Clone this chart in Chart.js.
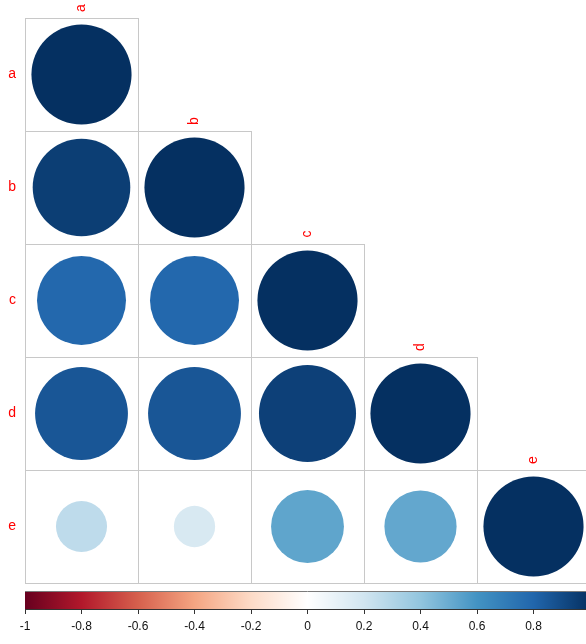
<!DOCTYPE html>
<html>
<head>
<meta charset="utf-8">
<script src="https://cdn.jsdelivr.net/npm/chart.js@4/dist/chart.umd.min.js"></script>
<style>
  html, body { margin: 0; padding: 0; background: #fff; overflow: hidden; }
  #wrap { width: 586px; height: 644px; overflow: hidden; position: relative; }
  .box { position: absolute; left: 0; width: 591px; }
</style>
</head>
<body>
<div id="wrap">
  <div class="box" style="top:0;height:584px"><canvas id="corr"></canvas></div>
  <div class="box" style="top:583px;height:61px"><canvas id="bar"></canvas></div>
</div>
<script>
// variables, lower triangle of the correlation matrix (row by row)
var vars = ['a', 'b', 'c', 'd', 'e'];
var rowA = [1];
var rowB = [0.95, 1];
var rowC = [0.79, 0.79, 1];
var rowD = [0.86, 0.86, 0.94, 1];
var rowE = [0.26, 0.17, 0.53, 0.52, 1];
var corrRows = [rowA, rowB, rowC, rowD, rowE];

// RdBu palette, -1 .. 1
var palette = ['#67001F', '#B2182B', '#D6604D', '#F4A582', '#FDDBC7', '#FFFFFF',
               '#D1E5F0', '#92C5DE', '#4393C3', '#2166AC', '#053061'];
var barTicks = [-1, -0.8, -0.6, -0.4, -0.2, 0, 0.2, 0.4, 0.6, 0.8];

Chart.defaults.font.family = "'Liberation Sans', Arial, sans-serif";
Chart.defaults.animation = false;

function hex2rgb(h) {
  return [parseInt(h.substr(1, 2), 16), parseInt(h.substr(3, 2), 16), parseInt(h.substr(5, 2), 16)];
}
function colorFor(v) {
  var t = (v + 1) / 2 * (palette.length - 1);
  var i = Math.min(Math.floor(t), palette.length - 2);
  var f = t - i;
  var a = hex2rgb(palette[i]), b = hex2rgb(palette[i + 1]);
  var c = a.map((x, k) => Math.round(x + (b[k] - x) * f));
  return 'rgb(' + c.join(',') + ')';
}

var points = [];
corrRows.forEach((row, i) => {
  row.forEach((v, j) => {
    points.push({ x: j + 1, y: i + 1, v: v });
  });
});

function cellSize(chart) {
  var xs = chart.scales.x;
  return Math.abs(xs.getPixelForValue(2) - xs.getPixelForValue(1));
}

var gridPlugin = {
  id: 'cells',
  beforeDatasetsDraw(chart) {
    var c = chart.ctx, xs = chart.scales.x, ys = chart.scales.y;
    c.save();
    c.strokeStyle = '#c8c8c8';
    c.lineWidth = 1;
    corrRows.forEach((row, i) => {
      row.forEach((v, j) => {
        var x0 = Math.round(xs.getPixelForValue(j + 0.5)) + 0.5;
        var x1 = Math.round(xs.getPixelForValue(j + 1.5)) + 0.5;
        var y0 = Math.round(ys.getPixelForValue(i + 0.5)) + 0.5;
        var y1 = Math.round(ys.getPixelForValue(i + 1.5)) + 0.5;
        c.strokeRect(x0, y0, x1 - x0, y1 - y0);
      });
    });
    c.restore();
  },
  afterDraw(chart) {
    // column labels, rotated, sitting above the diagonal
    var c = chart.ctx, xs = chart.scales.x, ys = chart.scales.y;
    c.save();
    c.fillStyle = '#ff0000';
    c.font = "14px 'Liberation Sans', Arial, sans-serif";
    c.textAlign = 'center';
    c.textBaseline = 'middle';
    vars.forEach((name, j) => {
      var px = xs.getPixelForValue(j + 1);
      var py = ys.getPixelForValue(j + 0.5) - 10;
      c.save();
      c.translate(px, py);
      c.rotate(-Math.PI / 2);
      c.fillText(name, 0, 0);
      c.restore();
    });
    c.restore();
  }
};

var chart = new Chart(document.getElementById('corr'), {
  type: 'scatter',
  data: {
    datasets: [{
      data: points,
      pointStyle: 'circle',
      borderWidth: 0,
      pointBorderWidth: 0,
      backgroundColor: ctx => colorFor(ctx.raw.v),
      pointBackgroundColor: ctx => colorFor(ctx.raw.v),
      pointRadius: ctx => Math.sqrt(Math.abs(ctx.raw.v)) * cellSize(ctx.chart) * 0.443,
      pointHoverRadius: ctx => Math.sqrt(Math.abs(ctx.raw.v)) * cellSize(ctx.chart) * 0.443
    }]
  },
  options: {
    responsive: true,
    maintainAspectRatio: false,
    layout: { padding: { top: 18, right: 1, bottom: 1, left: 0 } },
    plugins: { legend: { display: false }, tooltip: { enabled: false } },
    scales: {
      x: {
        type: 'linear', min: 0.5, max: 5.5, display: false
      },
      y: {
        type: 'linear', min: 0.5, max: 5.5, reverse: true,
        afterFit: s => { s.width = 25; s.paddingTop = 0; s.paddingBottom = 0; },
        afterBuildTicks: s => { s.ticks = vars.map((v, i) => ({ value: i + 1 })); },
        grid: { display: false, drawTicks: false },
        border: { display: false },
        ticks: {
          color: '#ff0000',
          padding: 9,
          font: { size: 14 },
          callback: v => vars[v - 1]
        }
      }
    }
  },
  plugins: [gridPlugin]
});

var gradientPlugin = {
  id: 'gradientBar',
  beforeDatasetsDraw(ch) {
    var a = ch.chartArea, xs = ch.scales.x, c = ch.ctx;
    var g = c.createLinearGradient(xs.getPixelForValue(-1), 0, xs.getPixelForValue(1), 0);
    palette.forEach((col, i) => g.addColorStop(i / (palette.length - 1), col));
    c.save();
    c.fillStyle = g;
    c.fillRect(a.left, a.top, a.right - a.left, a.bottom - a.top);
    c.strokeStyle = '#7a7a7a';
    c.lineWidth = 1;
    c.beginPath();
    c.moveTo(a.left, a.top + 0.5);
    c.lineTo(a.right, a.top + 0.5);
    c.stroke();
    c.restore();
  }
};

new Chart(document.getElementById('bar'), {
  type: 'scatter',
  data: { datasets: [{ data: [] }] },
  options: {
    responsive: true,
    maintainAspectRatio: false,
    layout: { padding: { top: 8, right: 1, left: 25, bottom: 0 } },
    plugins: { legend: { display: false }, tooltip: { enabled: false } },
    scales: {
      y: { display: false, min: 0, max: 1 },
      x: {
        type: 'linear', min: -1, max: 1,
        afterFit: s => { s.height = 35; },
        afterBuildTicks: s => { s.ticks = barTicks.map(v => ({ value: v })); },
        grid: { drawOnChartArea: false, tickLength: 5, color: '#333' },
        border: { display: true, color: '#333' },
        ticks: {
          color: '#111',
          padding: 5,
          font: { size: 12 },
          maxRotation: 0,
          callback: v => String(Math.round(v * 10) / 10)
        }
      }
    }
  },
  plugins: [gradientPlugin]
});
</script>
</body>
</html>
